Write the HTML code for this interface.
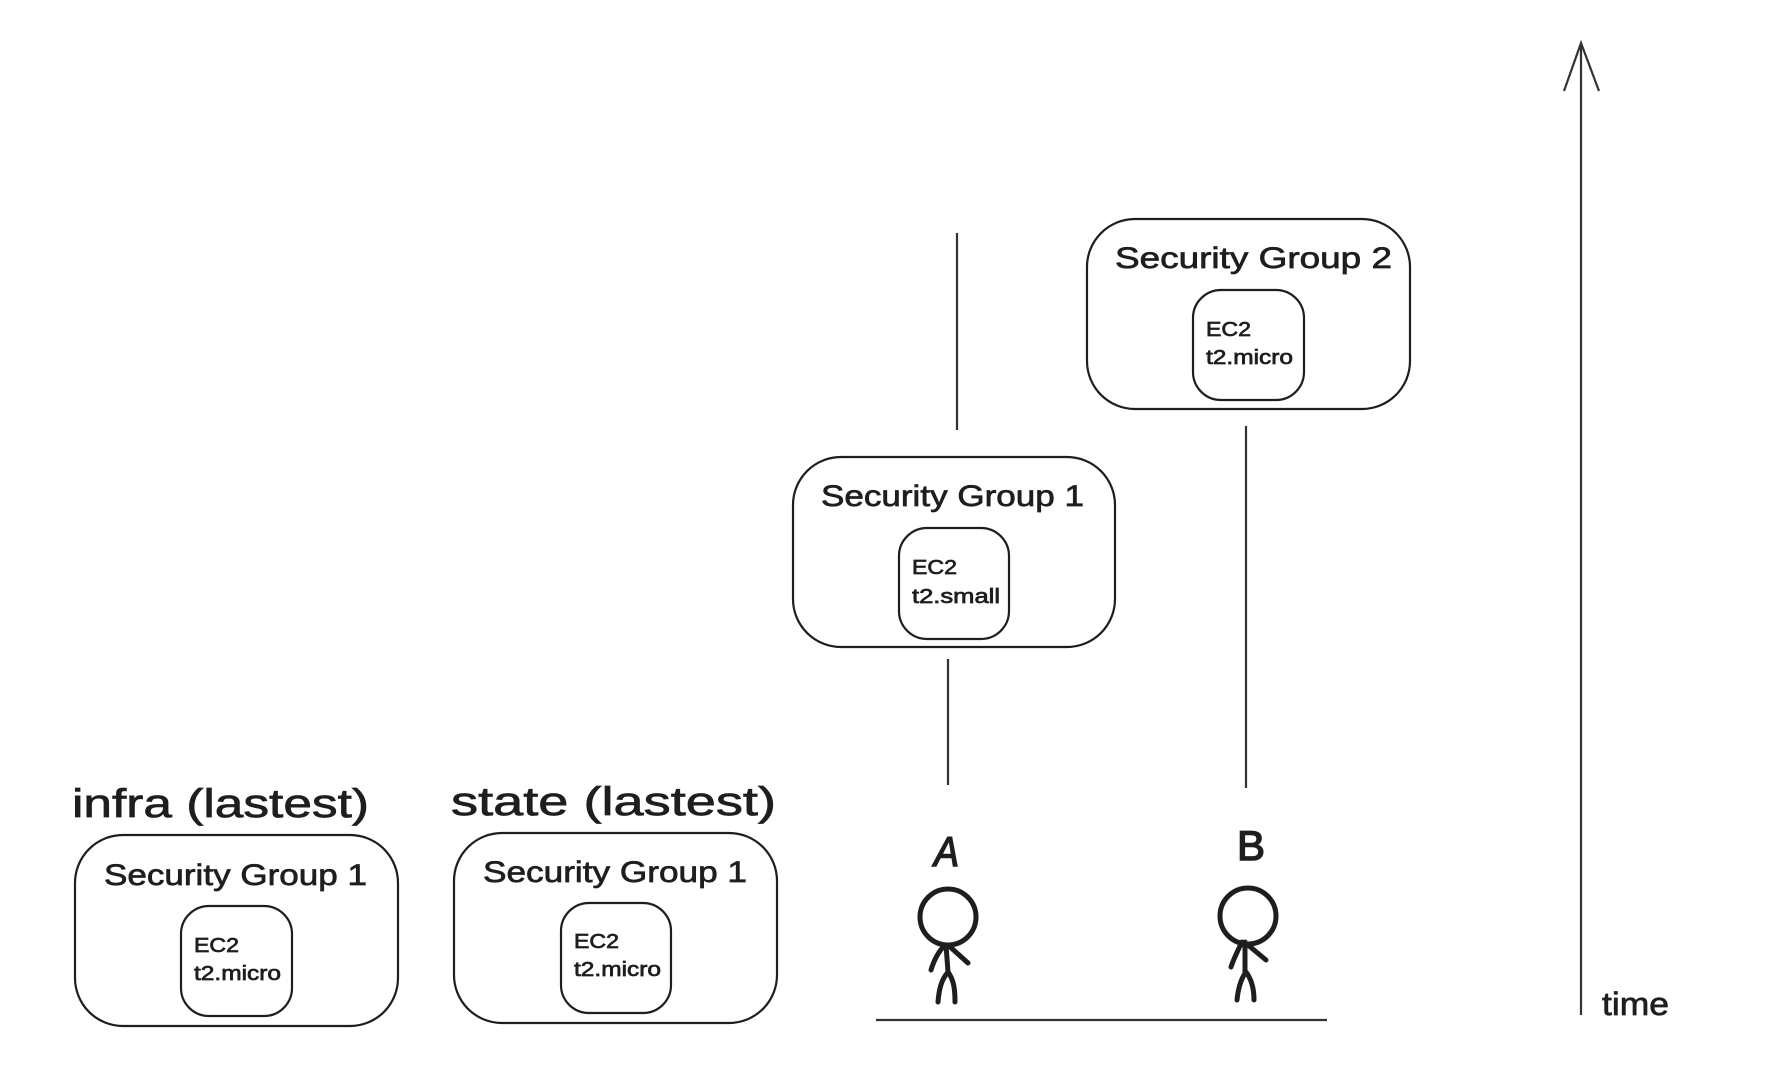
<!DOCTYPE html>
<html><head><meta charset="utf-8"><style>
html,body{margin:0;padding:0;background:#fff}
svg{display:block}
text{font-family:"Liberation Sans",sans-serif;fill:#1e1e1e;stroke:#1e1e1e;stroke-width:.7}
.b{fill:none;stroke:#1e1e1e;stroke-width:2.2}
.l{fill:none;stroke:#333;stroke-width:2.2}
.f{fill:none;stroke:#1e1e1e;stroke-width:5;stroke-linecap:round;stroke-linejoin:round}
</style></head><body>
<svg width="1766" height="1084" viewBox="0 0 1766 1084" xmlns="http://www.w3.org/2000/svg">
<rect width="1766" height="1084" fill="#fff"/>
<!-- Boxes -->
<rect class="b" x="75" y="835" width="323" height="191" rx="48"/>
<rect class="b" x="181" y="906" width="111" height="110" rx="28"/>
<rect class="b" x="454" y="833" width="323" height="190" rx="48"/>
<rect class="b" x="561" y="903" width="110" height="110" rx="28"/>
<rect class="b" x="793" y="457" width="322" height="190" rx="48"/>
<rect class="b" x="899" y="528" width="110" height="111" rx="28"/>
<rect class="b" x="1087" y="219" width="323" height="190" rx="48"/>
<rect class="b" x="1193" y="290" width="111" height="110" rx="28"/>
<!-- Lines -->
<path class="l" d="M957 233V430M948 659V785M1246 426V788M876 1020H1327M1581 1015V43"/>
<path class="l" d="M1564 91L1581 43L1599 91" stroke-width="2.6"/>
<!-- Figures -->
<circle class="f" cx="948" cy="917" r="28"/>
<path class="f" d="M946 945L948 972M945 945C938 952 934 960 931 970M948 945L968 963M948 972C941 980 939 990 938 1002M948 972C954 980 955 990 955 1002"/>
<circle class="f" cx="1248" cy="916" r="28"/>
<path class="f" d="M1245 942L1245 972M1242 942C1238 950 1234 958 1231 967M1248 945L1266 960M1246 972C1240 980 1238 990 1237 1000M1246 972C1252 980 1254 990 1254 1000"/>
<!-- Text -->
<text x="72" y="817" font-size="40" textLength="297" lengthAdjust="spacingAndGlyphs">infra (lastest)</text>
<text x="451" y="815" font-size="40" textLength="325" lengthAdjust="spacingAndGlyphs">state (lastest)</text>
<text x="104" y="885" font-size="30" textLength="263" lengthAdjust="spacingAndGlyphs">Security Group 1</text>
<text x="483" y="882" font-size="30" textLength="264" lengthAdjust="spacingAndGlyphs">Security Group 1</text>
<text x="821" y="506" font-size="30" textLength="263" lengthAdjust="spacingAndGlyphs">Security Group 1</text>
<text x="1115" y="268" font-size="30" textLength="277" lengthAdjust="spacingAndGlyphs">Security Group 2</text>
<text x="194" y="952" font-size="20" textLength="45" lengthAdjust="spacingAndGlyphs">EC2</text>
<text x="194" y="980" font-size="20" textLength="87" lengthAdjust="spacingAndGlyphs">t2.micro</text>
<text x="574" y="948" font-size="20" textLength="45" lengthAdjust="spacingAndGlyphs">EC2</text>
<text x="574" y="976" font-size="20" textLength="87" lengthAdjust="spacingAndGlyphs">t2.micro</text>
<text x="912" y="574" font-size="20" textLength="45" lengthAdjust="spacingAndGlyphs">EC2</text>
<text x="912" y="603" font-size="20" textLength="88" lengthAdjust="spacingAndGlyphs">t2.small</text>
<text x="1206" y="336" font-size="20" textLength="45" lengthAdjust="spacingAndGlyphs">EC2</text>
<text x="1206" y="364" font-size="20" textLength="87" lengthAdjust="spacingAndGlyphs">t2.micro</text>
<text x="934" y="866" font-size="42" textLength="25" lengthAdjust="spacingAndGlyphs" font-style="italic" style="stroke-width:1.5">A</text>
<text x="1237" y="860" font-size="42" textLength="28" lengthAdjust="spacingAndGlyphs" style="stroke-width:1.5">B</text>
<text x="1602" y="1015" font-size="32" textLength="67" lengthAdjust="spacingAndGlyphs">time</text>
</svg>
</body></html>
